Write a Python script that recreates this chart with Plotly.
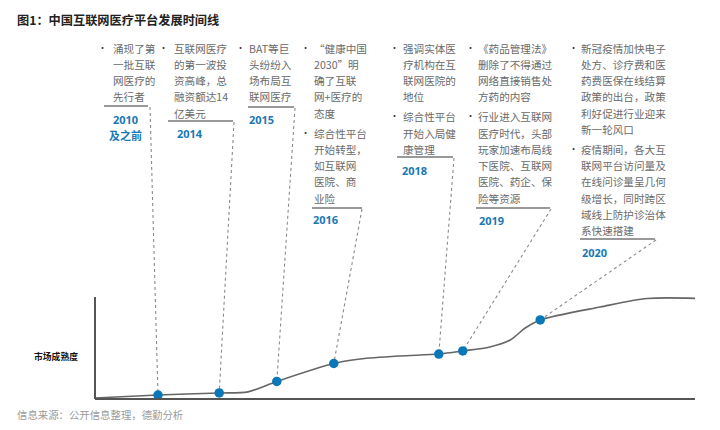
import plotly.graph_objects as go

# ---------------- data ----------------
title = "图1：中国互联网医疗平台发展时间线"
source = "信息来源：公开信息整理，德勤分析"
y_label = "市场成熟度"

years = ["2010\n及之前", "2014", "2015", "2016", "2018", "2019", "2020"]

col_texts = [
    [["涌现了第", "一批互联", "网医疗的", "先行者"]],
    [["互联网医疗", "的第一波投", "资高峰，总", "融资额达14", "亿美元"]],
    [["BAT等巨", "头纷纷入", "场布局互", "联网医疗"]],
    [["“健康中国", "2030”明", "确了互联", "网+医疗的", "态度"],
     ["综合性平台", "开始转型，", "如互联网", "医院、商", "业险"]],
    [["强调实体医", "疗机构在互", "联网医院的", "地位"],
     ["综合性平台", "开始入局健", "康管理"]],
    [["《药品管理法》", "删除了不得通过", "网络直接销售处", "方药的内容"],
     ["行业进入互联网", "医疗时代，头部", "玩家加速布局线", "下医院、互联网", "医院、药企、保", "险等资源"]],
    [["新冠疫情加快电子", "处方、诊疗费和医", "药费医保在线结算", "政策的出台，政策", "利好促进行业迎来", "新一轮风口"],
     ["疫情期间，各大互", "联网平台访问量及", "在线问诊量呈几何", "级增长，同时跨区", "域线上防护诊治体", "系快速搭建"]],
]

# maturity curve (time position 0-100, maturity 0-100)
curve_u = [0, 10.5, 20.7, 25.5, 30.3, 39.8, 44.2, 50.8, 57.3, 61.3, 65.8, 69.2, 71.7, 74.2, 84.2, 92.0, 100]
curve_m = [1, 3.9, 5.9, 7.0, 17.2, 34.8, 39.2, 42.2, 44.1, 47.1, 51.0, 57.8, 69.6, 77.5, 90.2, 98.5, 98.7]

# event points on the curve
event_u = [10.5, 20.7, 30.3, 39.8, 57.3, 61.3, 74.2]
event_m = [3.9, 5.9, 17.2, 34.8, 44.1, 47.1, 77.5]

# ---------------- layout helpers ----------------
W, H = 720, 430
X0, XS = 95, 6.0       # pixel of u=0, pixels per u unit
Y0, YS = 399, 1.02     # pixel of m=0, pixels per m unit


def px(x):
    return x / W


def py(y):
    return 1 - y / H


def to_u(x):
    return (x - X0) / XS


def to_m(y):
    return (Y0 - y) / YS


# column layout (pixels)
cols = [
    dict(bx=102, tx=112, y0=48, ul=(104, 148, 106), yr=(125, 119, "center"), cs=(150, 107)),
    dict(bx=163, tx=173, y0=48, ul=(168, 233, 121), yr=(176, 133, "left"), cs=(234, 122)),
    dict(bx=241, tx=248, y0=48, ul=(248, 294, 107), yr=(248, 119, "left"), cs=(295, 108)),
    dict(bx=305, tx=313, y0=48, ul=(312, 362, 208), yr=(312, 219, "left"), cs=(362, 209)),
    dict(bx=394, tx=402, y0=48, ul=(397, 453, 157), yr=(401, 170, "left"), cs=(454, 158)),
    dict(bx=470, tx=477, y0=48, ul=(476, 550, 208), yr=(478, 220, "left"), cs=(551, 209)),
    dict(bx=573, tx=580, y0=48, ul=(580, 655, 239), yr=(581, 252, "left"), cs=(656, 240)),
]
LINE = 16.3
GAP = 3.5

FONT = "Noto Sans CJK SC"
TXT = "#6a6a6a"
BLUE = "#1a78b4"
DOT = "#0a77b6"

fig = go.Figure()

# connectors
for c, eu, em in zip(cols, event_u, event_m):
    sx, sy = c["cs"]
    fig.add_trace(go.Scatter(
        x=[to_u(sx), eu], y=[to_m(sy), em], mode="lines",
        line=dict(color="#8a8a8a", width=1.1, dash="dot"),
        hoverinfo="skip", showlegend=False, cliponaxis=False))

# curve
fig.add_trace(go.Scatter(
    x=curve_u, y=curve_m, mode="lines", line=dict(color="#666666", width=1.6, shape="spline", smoothing=0.8),
    hoverinfo="skip", showlegend=False, cliponaxis=False))

# event dots
fig.add_trace(go.Scatter(
    x=event_u, y=event_m, mode="markers", marker=dict(color=DOT, size=9.5, line=dict(width=0)),
    hoverinfo="skip", showlegend=False, cliponaxis=False))

shapes = []
annotations = []

# axis lines
shapes.append(dict(type="line", xref="x", yref="y", x0=0, y0=0, x1=100, y1=0,
                   line=dict(color="#555555", width=2)))
shapes.append(dict(type="line", xref="x", yref="y", x0=0, y0=0, x1=0, y1=100,
                   line=dict(color="#555555", width=2)))


def ann(x, y, text, size, color, xanchor="left", bold=False, family=FONT):
    annotations.append(dict(
        x=px(x), y=py(y), xref="paper", yref="paper", text=("<b>%s</b>" % text) if bold else text,
        showarrow=False, xanchor=xanchor, yanchor="middle",
        font=dict(family=family, size=size, color=color), borderpad=0))


for c, groups, yr in zip(cols, col_texts, years):
    y = c["y0"]
    for gi, lines in enumerate(groups):
        if gi > 0:
            y += GAP
        ann(c["bx"], y - 1, "•", 9, "#333333", xanchor="center")
        for ln in lines:
            ann(c["tx"], y, ln, 10.6, TXT)
            y += LINE
    x0, x1, uy = c["ul"]
    shapes.append(dict(type="line", xref="paper", yref="paper", x0=px(x0), x1=px(x1), y0=py(uy), y1=py(uy),
                       line=dict(color="#777777", width=1.5)))
    yx, yy, anc = c["yr"]
    for k, part in enumerate(yr.split("\n")):
        ann(yx, yy + k * 16, part, 11, BLUE, xanchor=anc, bold=True, family="Open Sans, " + FONT)

ann(16, 20, title, 12.2, "#222222", bold=True)
ann(16, 414, source, 10.4, "#9a9a9a")
ann(33, 356, y_label, 8.8, "#111111", bold=True)

fig.update_layout(
    width=W, height=H, autosize=False,
    margin=dict(l=0, r=0, t=0, b=0),
    paper_bgcolor="white", plot_bgcolor="white",
    xaxis=dict(range=[to_u(0), to_u(W)], visible=False, domain=[0, 1], fixedrange=True),
    yaxis=dict(range=[to_m(H), to_m(0)], visible=False, domain=[0, 1], fixedrange=True),
    shapes=shapes, annotations=annotations,
)

fig.write_html("out.html", config={"displayModeBar": False},
               post_script="document.body.style.margin='0';document.body.style.overflow='hidden';")
